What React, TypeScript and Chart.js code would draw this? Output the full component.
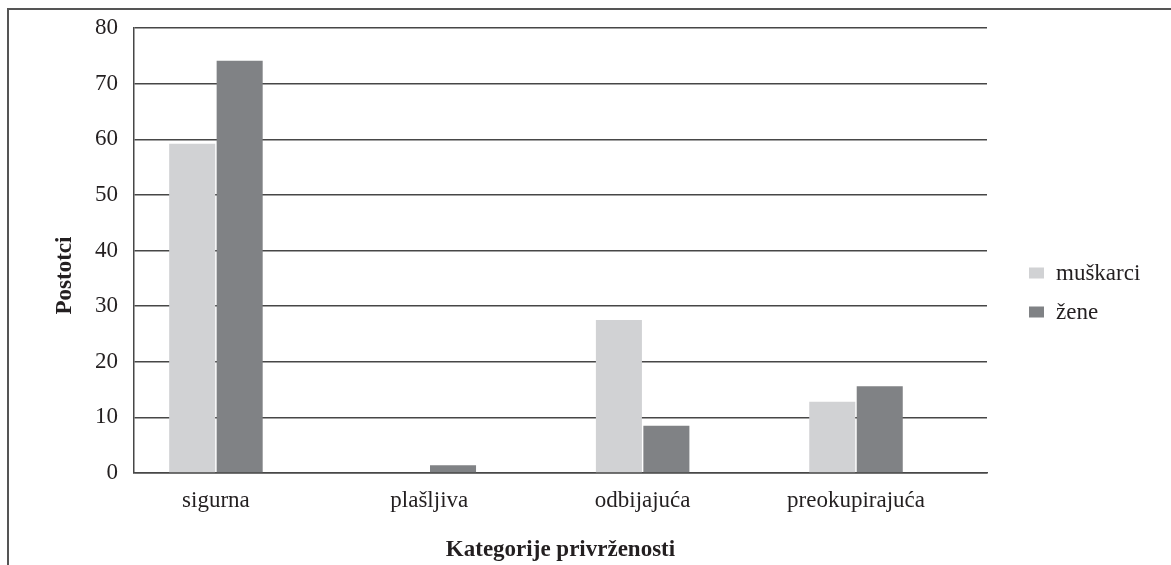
import React, { useEffect, useRef } from "react";
import { Chart, registerables } from "chart.js";

Chart.register(...registerables);

const categories = ["sigurna", "plašljiva", "odbijajuća", "preokupirajuća"];
const seriesNames = ["muškarci", "žene"];
const muskarci = [59.2, 0, 27.5, 12.8];
const zene = [74.1, 1.4, 8.5, 15.6];
const yTicks = [0, 10, 20, 30, 40, 50, 60, 70, 80];
const xTitle = "Kategorije privrženosti";
const yTitle = "Postotci";

const FONT = "'Liberation Serif', 'Times New Roman', serif";
const FS = 23;
const TEXT = "#231f20";
const GRID = "#474747";
const COLORS = ["#d1d2d4", "#808285"];

export default function App() {
  const ref = useRef<HTMLCanvasElement | null>(null);

  useEffect(() => {
    if (!ref.current) return;

    const sidePlugin = {
      id: "sideTexts",
      afterDraw(chart: any) {
        const { ctx, chartArea } = chart;
        ctx.save();
        ctx.font = `bold ${FS}px ${FONT}`;
        ctx.fillStyle = TEXT;
        ctx.textAlign = "center";
        ctx.textBaseline = "middle";
        ctx.translate(chartArea.left - 69, (chartArea.top + chartArea.bottom) / 2 + 25);
        ctx.rotate(-Math.PI / 2);
        ctx.fillText(yTitle, 0, 0);
        ctx.restore();

        ctx.save();
        ctx.font = `${FS}px ${FONT}`;
        ctx.textAlign = "left";
        ctx.textBaseline = "middle";
        const mid = (chartArea.top + chartArea.bottom) / 2;
        chart.data.datasets.forEach((ds: any, i: number) => {
          const cy = mid + 22.5 + i * 39;
          const bx = chartArea.right + 42;
          ctx.fillStyle = ds.backgroundColor;
          ctx.fillRect(bx, cy - 5.5, 15, 11);
          ctx.fillStyle = TEXT;
          ctx.fillText(ds.label, bx + 27, cy + 1);
        });
        ctx.restore();
      },
    };

    const chart = new Chart(ref.current, {
      type: "bar",
      data: {
        datasets: [
          {
            label: seriesNames[0],
            data: muskarci.map((v, i) => ({ x: i, y: v })),
            backgroundColor: COLORS[0],
            borderWidth: 0,
            categoryPercentage: 0.445,
            barPercentage: 0.97,
          },
          {
            label: seriesNames[1],
            data: zene.map((v, i) => ({ x: i, y: v })),
            backgroundColor: COLORS[1],
            borderWidth: 0,
            categoryPercentage: 0.445,
            barPercentage: 0.97,
          },
        ],
      },
      options: {
        animation: false,
        responsive: true,
        maintainAspectRatio: false,
        layout: { padding: { top: 18, right: 184, left: 0, bottom: 0 } },
        plugins: {
          legend: { display: false },
          tooltip: { enabled: false },
        },
        scales: {
          x: {
            type: "linear",
            offset: false,
            min: -0.384,
            max: 3.614,
            grid: { display: false, drawTicks: false, offset: false },
            border: { display: true, color: GRID, width: 1.5 },
            afterBuildTicks: (scale: any) => {
              scale.ticks = categories.map((_, i) => ({ value: i }));
            },
            afterFit: (scale: any) => {
              scale.height = 92;
              scale.paddingLeft = 0;
              scale.paddingRight = 0;
            },
            ticks: {
              autoSkip: false,
              maxRotation: 0,
              padding: 14,
              color: TEXT,
              font: { family: FONT, size: FS },
              callback: (v: any) => categories[Math.round(Number(v))] ?? "",
            },
            title: {
              display: true,
              text: xTitle,
              color: TEXT,
              font: { family: FONT, size: FS, weight: "bold" },
              padding: { top: 0, bottom: 1 },
            },
          },
          y: {
            min: 0,
            max: 80,
            afterBuildTicks: (scale: any) => {
              scale.ticks = yTicks.map((v) => ({ value: v }));
            },
            afterFit: (scale: any) => {
              scale.width = 125;
              scale.paddingTop = 0;
              scale.paddingBottom = 0;
            },
            grid: { color: GRID, lineWidth: 1.5, drawTicks: false },
            border: { display: true, color: GRID, width: 1.5 },
            ticks: {
              padding: 16,
              color: TEXT,
              font: { family: FONT, size: FS },
            },
          },
        },
      },
      plugins: [sidePlugin],
    } as any);

    return () => chart.destroy();
  }, []);

  return (
    <div
      style={{
        position: "fixed",
        left: 7,
        top: 8,
        width: 1200,
        height: 600,
        borderTop: "2px solid #555",
        borderLeft: "2px solid #555",
        background: "#fff",
      }}
    >
      <div style={{ position: "absolute", left: 0, top: 0, width: 1162, height: 555 }}>
        <canvas ref={ref} />
      </div>
    </div>
  );
}
